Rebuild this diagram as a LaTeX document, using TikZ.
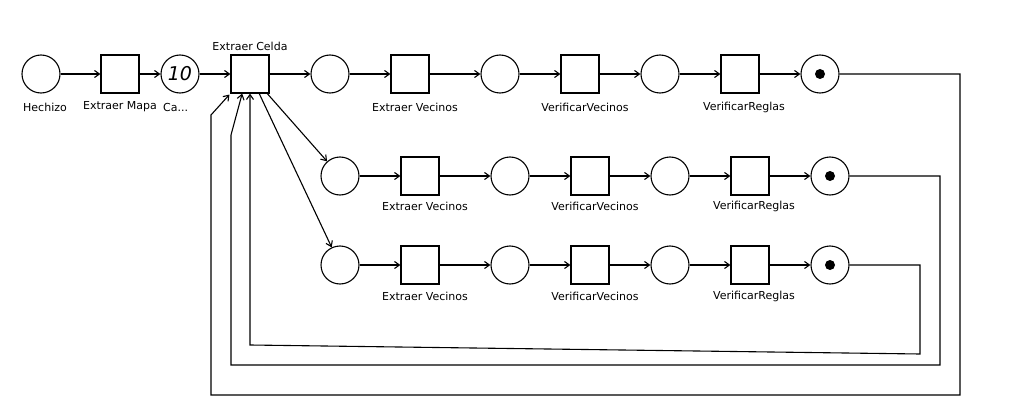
\documentclass[tikz,border=0pt]{standalone}
\usepackage{fontspec}
\setmainfont{DejaVu Sans}
\usetikzlibrary{arrows.meta,calc}
\begin{document}
\begin{tikzpicture}[x=1pt,y=-1pt,
  place/.style={draw,circle,minimum size=38pt,inner sep=0pt,line width=1.1pt},
  trans/.style={draw,rectangle,minimum size=38pt,inner sep=0pt,line width=1.1pt},
  arc/.style={line width=1.1pt,-{Straight Barb[length=5pt,width=7pt]}},
  ret/.style={line width=1.1pt,-{Straight Barb[length=5pt,width=7pt]}},
  lbl/.style={font=\fontsize{11}{13}\selectfont,inner sep=0pt},
  tok/.style={fill,circle,inner sep=0pt,minimum size=10pt}]
\useasboundingbox[fill=white] (0,0) rectangle (1018,412);
% row 1
\node[place] (h) at (41,74) {};
\node[trans] (em) at (120,74) {};
\node[place] (ca) at (180,74) {\fontsize{19}{21}\selectfont\itshape 10};
\node[trans] (ec) at (250,74) {};
\node[place] (p1a) at (330,74) {};
\node[trans] (t1a) at (410,74) {};
\node[place] (p1b) at (500,74) {};
\node[trans] (t1b) at (580,74) {};
\node[place] (p1c) at (660,74) {};
\node[trans] (t1c) at (740,74) {};
\node[place] (p1d) at (820,74) {};
\node[tok] at (p1d) {};
% row 2
\node[place] (p2a) at (340,176) {};
\node[trans] (t2a) at (420,176) {};
\node[place] (p2b) at (510,176) {};
\node[trans] (t2b) at (590,176) {};
\node[place] (p2c) at (670,176) {};
\node[trans] (t2c) at (750,176) {};
\node[place] (p2d) at (830,176) {};
\node[tok] at (p2d) {};
% row 3
\node[place] (p3a) at (340,265) {};
\node[trans] (t3a) at (420,265) {};
\node[place] (p3b) at (510,265) {};
\node[trans] (t3b) at (590,265) {};
\node[place] (p3c) at (670,265) {};
\node[trans] (t3c) at (750,265) {};
\node[place] (p3d) at (830,265) {};
\node[tok] at (p3d) {};
% labels
\node[lbl] (lh) at (45,107) {Hechizo};
\node[lbl] (lem) at (120,107) {Extraer Mapa};
\node[lbl,anchor=west] (lca) at (163,107) {Ca...};
\node[lbl] (lec) at (250,46) {Extraer Celda};
\node[lbl] (l1a) at (415,107) {Extraer Vecinos};
\node[lbl] (l1b) at (585,107) {VerificarVecinos};
\node[lbl] (l1c) at (744,107) {VerificarReglas};
\node[lbl] (l2a) at (425,206) {Extraer Vecinos};
\node[lbl] (l2b) at (595,206) {VerificarVecinos};
\node[lbl] (l2c) at (754,206) {VerificarReglas};
\node[lbl] (l3a) at (425,296) {Extraer Vecinos};
\node[lbl] (l3b) at (595,296) {VerificarVecinos};
\node[lbl] (l3c) at (754,296) {VerificarReglas};
% arcs row 1
\draw[arc] (h) -- (em);
\draw[arc] (em) -- (ca);
\draw[arc] (ca) -- (ec);
\draw[arc] (ec) -- (p1a);
\draw[arc] (p1a) -- (t1a);
\draw[arc] (t1a) -- (p1b);
\draw[arc] (p1b) -- (t1b);
\draw[arc] (t1b) -- (p1c);
\draw[arc] (p1c) -- (t1c);
\draw[arc] (t1c) -- (p1d);
% branches
\draw[arc] (ec) -- (p2a);
\draw[arc] (ec) -- (p3a);
\draw[arc] (p2a) -- (t2a);
\draw[arc] (t2a) -- (p2b);
\draw[arc] (p2b) -- (t2b);
\draw[arc] (t2b) -- (p2c);
\draw[arc] (p2c) -- (t2c);
\draw[arc] (t2c) -- (p2d);
\draw[arc] (p3a) -- (t3a);
\draw[arc] (t3a) -- (p3b);
\draw[arc] (p3b) -- (t3b);
\draw[arc] (t3b) -- (p3c);
\draw[arc] (p3c) -- (t3c);
\draw[arc] (t3c) -- (p3d);
% return loops
\coordinate (r1a) at (960,74);
\coordinate (r1b) at (960,395);
\coordinate (r1c) at (211,395);
\coordinate (r1d) at (211,115);
\draw[ret] (p1d.east) -- (r1a) -- (r1b) -- (r1c) -- (r1d) -- ($(ec.south west)+(-1,1)$);
\coordinate (r2a) at (940,176);
\coordinate (r2b) at (940,365);
\coordinate (r2c) at (231,365);
\coordinate (r2d) at (231,135);
\draw[ret] (p2d.east) -- (r2a) -- (r2b) -- (r2c) -- (r2d) -- ($(ec.south west)!0.3!(ec.south east)$);
\coordinate (r3a) at (920,265);
\coordinate (r3b) at (920,354);
\coordinate (r3c) at (250,345);
\draw[ret] (p3d.east) -- (r3a) -- (r3b) -- (r3c) -- (ec.south);
\end{tikzpicture}
\end{document}
